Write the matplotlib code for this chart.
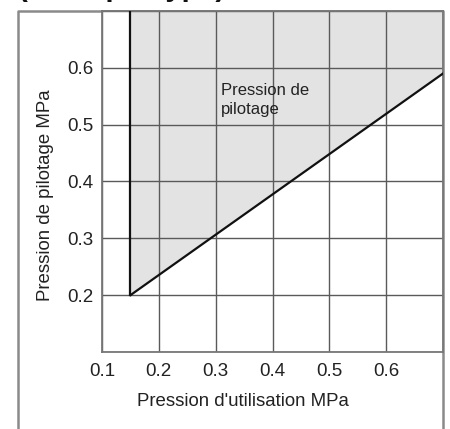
import matplotlib
matplotlib.use("Agg")
import matplotlib.pyplot as plt
from matplotlib.lines import Line2D
import numpy as np

plt.rcParams['font.family'] = ['Liberation Sans', 'DejaVu Sans']

# chart values
x_ticks = [0.1, 0.2, 0.3, 0.4, 0.5, 0.6]
y_ticks = [0.2, 0.3, 0.4, 0.5, 0.6]
grid_steps = [0.1, 0.2, 0.3, 0.4, 0.5, 0.6, 0.7]
usage_pressure = [0.15, 0.7]      # Pression d'utilisation MPa
pilot_min = [0.2, 0.59]           # min. pilot pressure along the boundary
pilot_max = 0.7
AX_RANGE = (0.1, 0.7)

W, H = 450, 429
fig = plt.figure(figsize=(W / 100, H / 100), dpi=100)
ax = fig.add_axes([102 / W, 1 - 352 / H, (443 - 102) / W, (352 - 11) / H])

ax.set_xlim(*AX_RANGE)
ax.set_ylim(*AX_RANGE)

# shaded zone: right of the min usage pressure, above the boundary
ax.fill_between(usage_pressure, pilot_min, pilot_max,
                color='#e3e3e3', linewidth=0, zorder=0)

# grid
for g in grid_steps:
    ax.axvline(g, color='#5a5a5a', linewidth=1.0, zorder=1)
    ax.axhline(g, color='#5a5a5a', linewidth=1.0, zorder=1)

# boundary lines
ax.plot([usage_pressure[0], usage_pressure[0]], [pilot_min[0], pilot_max],
        color='#111111', linewidth=1.6, zorder=3)
ax.plot(usage_pressure, pilot_min, color='#111111', linewidth=1.6, zorder=3)

ax.text(0.31, 0.574, "Pression de\npilotage", fontsize=12, color='#222222',
        ha='left', va='top', linespacing=1.4, zorder=4)

ax.set_xticks(x_ticks)
ax.set_xticklabels(["{:.1f}".format(v) for v in x_ticks])
ax.set_yticks(y_ticks)
ax.set_yticklabels(["{:.1f}".format(v) for v in y_ticks])
ax.tick_params(length=0, labelsize=13.5, labelcolor='#222222')
ax.tick_params(axis='x', pad=8)
ax.tick_params(axis='y', pad=6)
for s in ax.spines.values():
    s.set_color('#777777')
    s.set_linewidth(1.3)

fig.text(243 / W, 1 - 402 / H, "Pression d'utilisation MPa", fontsize=13.4,
         color='#222222', ha='center', va='center')
fig.text(46 / W, 1 - 195 / H, "Pression de pilotage MPa", fontsize=13.4,
         color='#222222', ha='center', va='center', rotation=90)

# title, cut off at the top edge of the picture as in the source
fig.text(18 / W, 1 + 4 / H, "(Exemple type)", fontsize=21, fontweight='bold',
         color='#111111', ha='left', va='baseline')

# outer frame, open at the bottom
fx = [18 / W, 18 / W, 443 / W, 443 / W]
fy = [0.0, 1 - 11 / H, 1 - 11 / H, 0.0]
fig.add_artist(Line2D(fx, fy, transform=fig.transFigure,
                      color='#8a8a8a', linewidth=1.8, zorder=0))

fig.savefig("out.png", dpi=100)
